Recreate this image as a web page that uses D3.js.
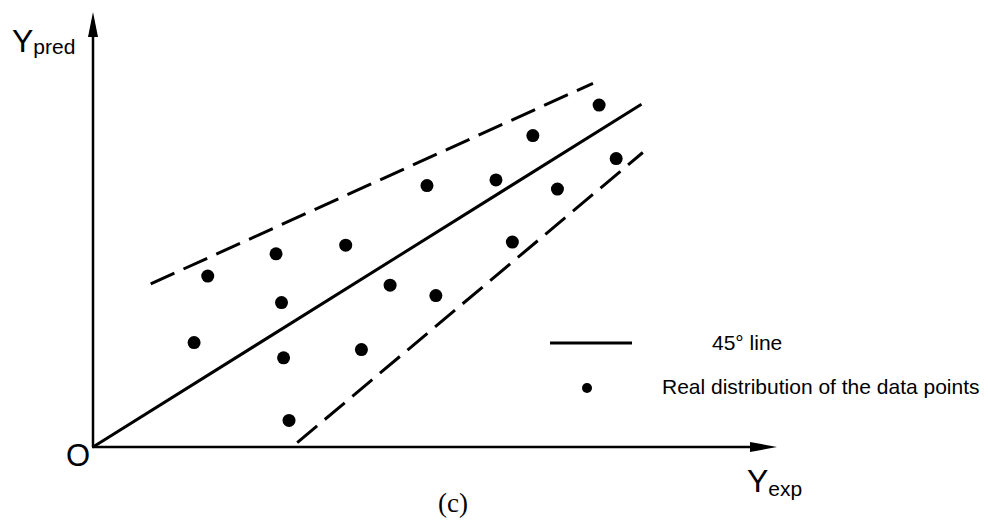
<!DOCTYPE html>
<html>
<head>
<meta charset="utf-8">
<script src="https://cdn.jsdelivr.net/npm/d3@7/dist/d3.min.js"></script>
<style>
  html, body { margin: 0; padding: 0; background: #fff; }
  svg { display: block; }
</style>
</head>
<body>
<svg id="chart" width="988" height="525"></svg>
<script>
// ---- data (arbitrary units, 0..100 on each axis) ----
const pointsX = [14.8, 16.8, 26.8, 27.6, 27.9, 28.7, 37.0, 39.3, 43.5, 50.2, 48.9, 59.0, 61.4, 64.4, 68.0, 74.1, 76.6];
const pointsY = [24.0, 39.3, 44.4, 33.2, 20.5, 6.1, 46.4, 22.4, 37.2, 34.8, 60.1, 61.4, 47.1, 71.6, 59.3, 78.6, 66.3];
const line45 = [[0, 0], [80.3, 78.8]];
const upperBound = [[8.45, 37.5], [73.2, 83.6]];
const lowerBound = [[29.9, 1.0], [80.5, 67.7]];
const legendLabels = ["45\u00b0 line", "Real distribution of the data points"];
const axisLabels = { y: ["Y", "pred"], x: ["Y", "exp"], origin: "O" };
const caption = "(c)";

const svg = d3.select("#chart");
const x = d3.scaleLinear().domain([0, 100]).range([93, 776]);
const y = d3.scaleLinear().domain([0, 100]).range([447, 12]);
const sans = "'Liberation Sans', Arial, Helvetica, sans-serif";

// axes
svg.append("line").attr("x1", x(0)).attr("y1", y(0)).attr("x2", x(0)).attr("y2", y(100) + 20)
  .attr("stroke", "#000").attr("stroke-width", 2.5);
svg.append("line").attr("x1", x(0) - 1).attr("y1", y(0)).attr("x2", x(100) - 20).attr("y2", y(0))
  .attr("stroke", "#000").attr("stroke-width", 2.5);
// arrow heads
svg.append("path")
  .attr("d", `M${x(0)},${y(100)} L${x(0) + 5},${y(100) + 25} L${x(0) - 5},${y(100) + 25} Z`)
  .attr("fill", "#000");
svg.append("path")
  .attr("d", `M${x(100) + 1},${y(0)} L${x(100) - 26},${y(0) - 5} L${x(100) - 26},${y(0) + 5} Z`)
  .attr("fill", "#000");

const lineGen = d3.line().x(d => x(d[0])).y(d => y(d[1]));

svg.append("path").attr("d", lineGen(line45))
  .attr("fill", "none").attr("stroke", "#000").attr("stroke-width", 3);
[upperBound, lowerBound].forEach(seg => {
  svg.append("path").attr("d", lineGen(seg))
    .attr("fill", "none").attr("stroke", "#000").attr("stroke-width", 3)
    .attr("stroke-dasharray", "26,10");
});

// points
svg.selectAll("circle.pt").data(pointsX.map((v, i) => [v, pointsY[i]]))
  .enter().append("circle").attr("class", "pt")
  .attr("cx", d => x(d[0])).attr("cy", d => y(d[1])).attr("r", 6.5).attr("fill", "#000");

// legend
svg.append("line").attr("x1", 550).attr("x2", 632).attr("y1", 343).attr("y2", 343)
  .attr("stroke", "#000").attr("stroke-width", 3);
svg.append("text").attr("x", 712).attr("y", 350).attr("font-family", sans).attr("font-size", 21)
  .text(legendLabels[0]);
svg.append("circle").attr("cx", 587).attr("cy", 388).attr("r", 5).attr("fill", "#000");
svg.append("text").attr("x", 662).attr("y", 394).attr("font-family", sans).attr("font-size", 21)
  .text(legendLabels[1]);

// axis labels
const yl = svg.append("text").attr("x", 12).attr("y", 52).attr("font-family", sans).attr("font-size", 32);
yl.append("tspan").text(axisLabels.y[0]);
yl.append("tspan").attr("font-size", 21).attr("dy", 2).text(axisLabels.y[1]);

const xl = svg.append("text").attr("x", 747).attr("y", 492).attr("font-family", sans).attr("font-size", 32);
xl.append("tspan").text(axisLabels.x[0]);
xl.append("tspan").attr("font-size", 21).attr("dy", 4).text(axisLabels.x[1]);

svg.append("text").attr("x", 90).attr("y", 466).attr("text-anchor", "end")
  .attr("font-family", sans).attr("font-size", 31).text(axisLabels.origin);

svg.append("text").attr("x", 453).attr("y", 512).attr("text-anchor", "middle")
  .attr("font-family", "'Liberation Serif', 'Times New Roman', serif").attr("font-size", 27).text(caption);
</script>
</body>
</html>
